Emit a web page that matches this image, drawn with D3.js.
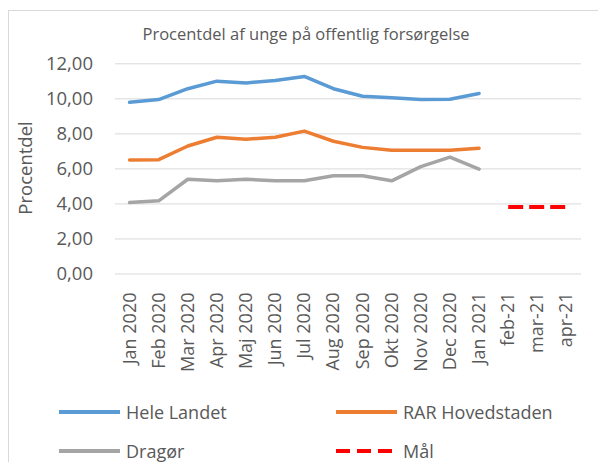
<!doctype html>
<html lang="da">
<head>
<meta charset="utf-8">
<style>
	body { margin: 0; background: #fff; }
	text { font-family: "Open Sans", sans-serif; fill: #595959; }
</style>
</head>
<body>
<div id="chart"></div>
<script src="https://d3js.org/d3.v7.min.js"></script>
<script>

	// categories (x axis)
	var months = ["Jan 2020", "Feb 2020", "Mar 2020", "Apr 2020", "Maj 2020", "Jun 2020", "Jul 2020",
		"Aug 2020", "Sep 2020", "Okt 2020", "Nov 2020", "Dec 2020", "Jan 2021", "feb-21", "mar-21", "apr-21"];

	// series values (null = no value)
	var heleLandet = [9.77, 9.93, 10.55, 10.98, 10.88, 11.02, 11.25, 10.55, 10.12, 10.03, 9.93, 9.95, 10.28, null, null, null];
	var rarHovedstaden = [6.48, 6.5, 7.28, 7.78, 7.66, 7.78, 8.13, 7.55, 7.2, 7.03, 7.03, 7.03, 7.15, null, null, null];
	var dragoer = [4.05, 4.15, 5.38, 5.29, 5.38, 5.29, 5.29, 5.58, 5.58, 5.29, 6.1, 6.64, 5.96, null, null, null];
	var maal = [null, null, null, null, null, null, null, null, null, null, null, null, null, 3.8, 3.8, 3.8];

	var yTicks = [0, 2, 4, 6, 8, 10, 12];

	var series = [
		{name: "Hele Landet", values: heleLandet, color: "#5B9BD5", dash: null},
		{name: "RAR Hovedstaden", values: rarHovedstaden, color: "#ED7D31", dash: null},
		{name: "Dragør", values: dragoer, color: "#A5A5A5", dash: null},
		{name: "Mål", values: maal, color: "#FF0000", dash: "15,6"}
	];

	var W = 598, H = 462;
	var plot = {left: 115, right: 581, top: 63.3, bottom: 273.5};

	var svg = d3.select("#chart").append("svg")
		.attr("width", W)
		.attr("height", H);

	// chart area border (runs off the right and bottom edge)
	svg.append("rect")
		.attr("x", 8.5).attr("y", 10.5)
		.attr("width", W).attr("height", H)
		.attr("fill", "none")
		.attr("stroke", "#d9d9d9");

	var x = d3.scaleBand()
		.domain(months)
		.range([plot.left, plot.right]);

	var y = d3.scaleLinear()
		.domain([0, 12])
		.range([plot.bottom, plot.top]);

	// gridlines + y labels
	var yAxis = svg.append("g")
		.attr("transform", "translate(" + plot.left + ",0)")
		.call(d3.axisLeft(y).tickValues(yTicks)
			.tickSize(-(plot.right - plot.left))
			.tickPadding(22)
			.tickFormat(function(d) { return d3.format(".2f")(d).replace(".", ","); }));
	yAxis.select(".domain").remove();
	yAxis.selectAll(".tick line").attr("stroke", "#d9d9d9");
	yAxis.selectAll(".tick text")
		.style("font-size", "18.5px")
		.attr("fill", "#595959")
		.style("font-family", "'Open Sans', sans-serif");

	// x labels (rotated)
	var xAxis = svg.append("g")
		.attr("transform", "translate(0," + plot.bottom + ")")
		.call(d3.axisBottom(x).tickSize(0).tickPadding(0));
	xAxis.select(".domain").remove();
	xAxis.selectAll(".tick text")
		.style("font-size", "18px")
		.attr("fill", "#595959")
		.style("font-family", "'Open Sans', sans-serif")
		.attr("text-anchor", "end")
		.attr("dy", null)
		.attr("y", 0)
		.attr("transform", "translate(6,19) rotate(-90)");

	// lines
	var line = d3.line()
		.defined(function(d) { return d !== null; })
		.x(function(d, i) { return x(months[i]) + x.bandwidth() / 2; })
		.y(function(d) { return y(d); });

	series.forEach(function(s) {
		svg.append("path")
			.datum(s.values)
			.attr("fill", "none")
			.attr("stroke", s.color)
			.attr("stroke-width", s.dash ? 4 : 3.5)
			.attr("stroke-linejoin", "round")
			.attr("stroke-linecap", s.dash ? "butt" : "round")
			.attr("stroke-dasharray", s.dash)
			.attr("d", line);
	});

	// title
	svg.append("text")
		.attr("x", 306)
		.attr("y", 40)
		.attr("text-anchor", "middle")
		.style("font-size", "16.5px")
		.text("Procentdel af unge på offentlig forsørgelse");

	// y axis title
	svg.append("text")
		.attr("transform", "translate(32,168) rotate(-90)")
		.attr("text-anchor", "middle")
		.style("font-size", "18.5px")
		.text("Procentdel");

	// legend
	var legendPos = [[59, 412], [336, 412], [59, 451], [336, 451]];
	series.forEach(function(s, i) {
		var p = legendPos[i];
		var g = svg.append("g").attr("transform", "translate(" + p[0] + "," + p[1] + ")");
		g.append("line")
			.attr("x1", 0).attr("x2", s.dash ? 57 : 61)
			.attr("y1", 0).attr("y2", 0)
			.attr("stroke", s.color)
			.attr("stroke-width", 4)
			.attr("stroke-dasharray", s.dash ? "14,7" : null);
		g.append("text")
			.attr("x", 67)
			.attr("y", 6.5)
			.style("font-size", "18px")
			.text(s.name);
	});

</script>
</body>
</html>
